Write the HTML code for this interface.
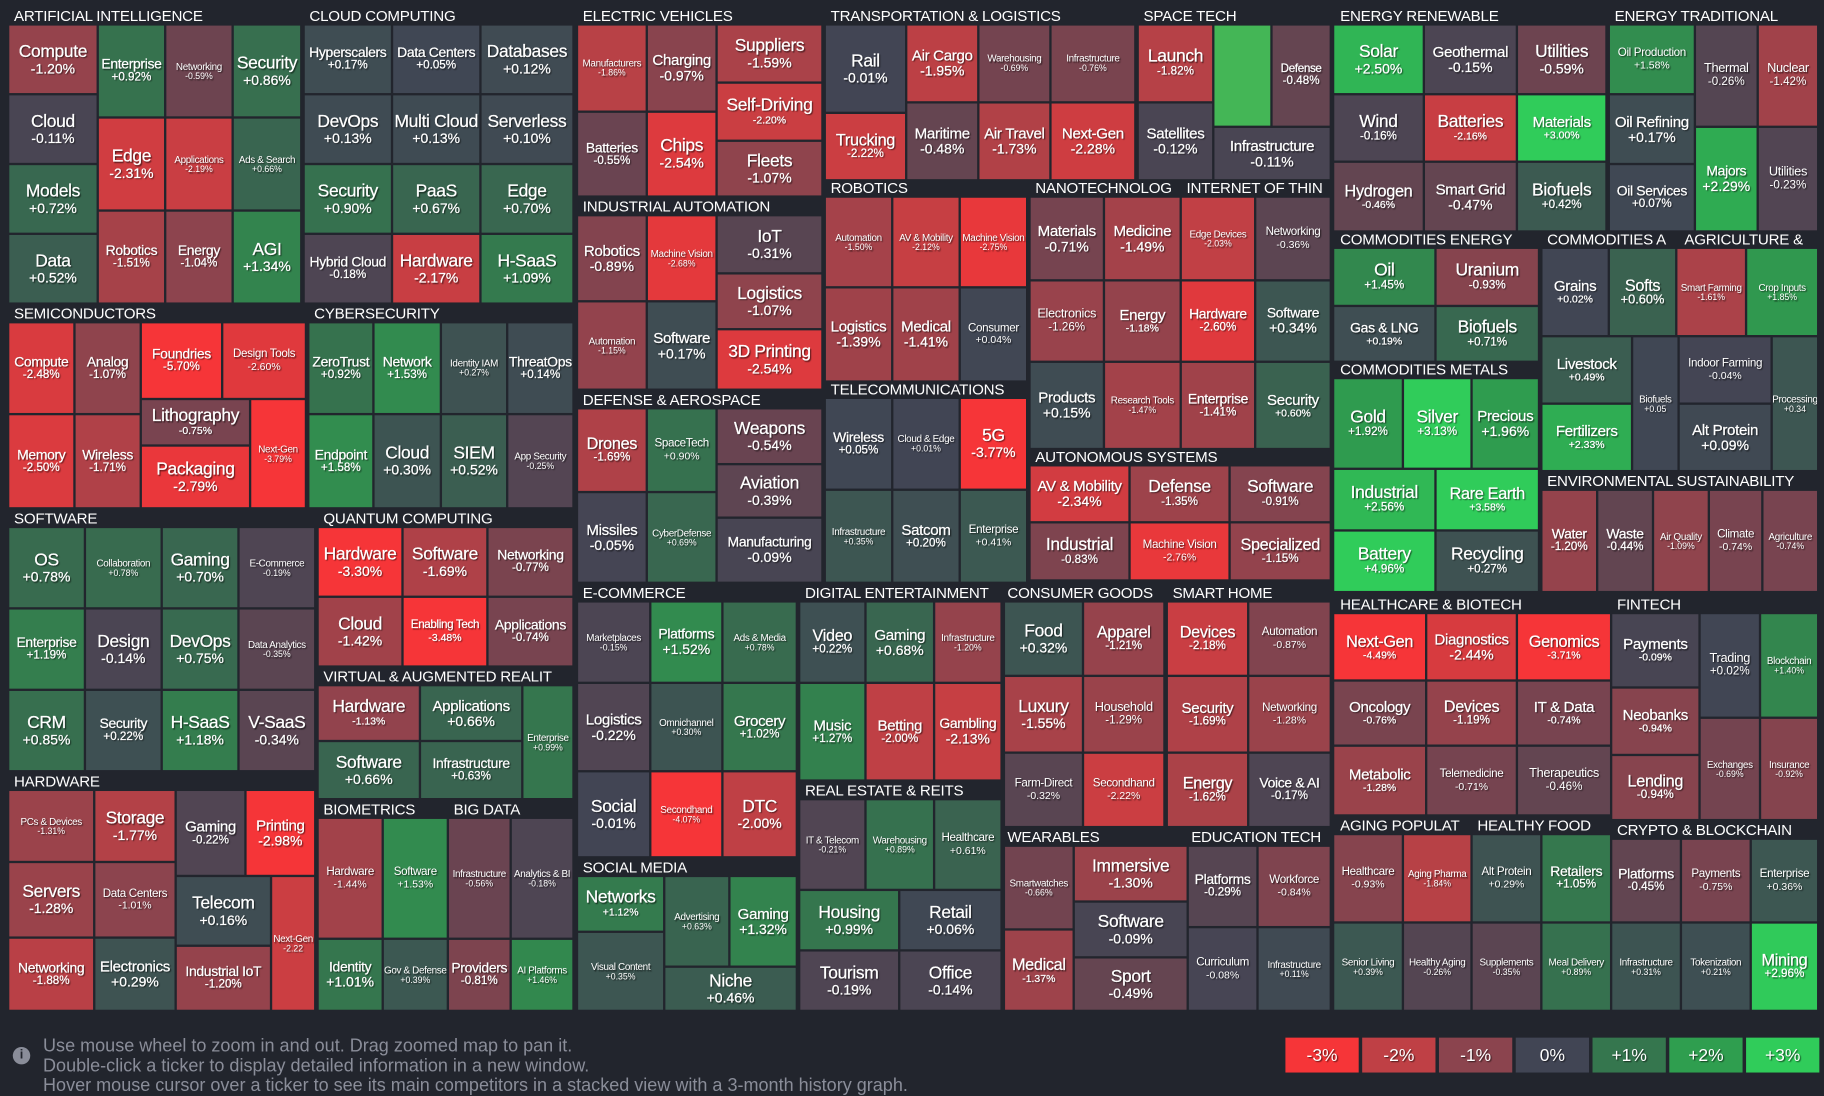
<!DOCTYPE html>
<html><head><meta charset="utf-8">
<style>
html,body{margin:0;padding:0;background:#22252d;overflow:hidden;width:1824px;height:1093px}
#w{position:absolute;left:0;top:0;width:1568px;height:940px;transform:scale(1.16327);transform-origin:0 0;font-family:"Liberation Sans",sans-serif}
.c{position:absolute;left:calc(var(--a)*1px);top:calc(var(--b)*1px);width:calc((var(--c) - var(--a))*1px);height:calc((var(--d) - var(--b))*1px);background:#414554;color:#fff;display:flex;flex-direction:column;align-items:center;justify-content:center;text-align:center;overflow:hidden;text-shadow:1px 1px 1px rgba(0,0,0,.6);line-height:1.05;-webkit-text-stroke:0.2px #fff}
.c b{font-weight:normal;font-size:15px;white-space:nowrap;letter-spacing:-.3px}
.c i{font-style:normal;font-size:12px;white-space:nowrap}
.c.m b{font-size:12px}.c.m i{font-size:10px}
.c.s b{font-size:8.5px}.c.s i{font-size:7.5px}
.c.s{-webkit-text-stroke:0}
.h{position:absolute;left:calc(var(--a)*1px);top:calc(var(--b)*1px);color:#fff;font-size:13px;white-space:nowrap;line-height:16px;letter-spacing:-.2px}
.note{position:absolute;left:37px;color:#8a8d99;font-size:15.5px;line-height:17px;white-space:nowrap}
.lg{position:absolute;top:892px;width:63px;height:30px;color:#fff;font-size:15px;display:flex;align-items:center;justify-content:center;text-shadow:1px 1px 1px rgba(0,0,0,.6)}
</style></head><body><div id="w">
<div class="h" style="--a:12;--b:6">ARTIFICIAL INTELLIGENCE</div>
<div class="c" style="--a:8;--b:22;--c:83;--d:80"><b>Compute</b><i>-1.20%</i></div>
<div class="c" style="--a:8;--b:82;--c:83;--d:140"><b>Cloud</b><i>-0.11%</i></div>
<div class="c" style="--a:8;--b:142;--c:83;--d:200"><b>Models</b><i>+0.72%</i></div>
<div class="c" style="--a:8;--b:202;--c:83;--d:260"><b>Data</b><i>+0.52%</i></div>
<div class="c m" style="--a:85;--b:22;--c:141;--d:100"><b>Enterprise</b><i>+0.92%</i></div>
<div class="c" style="--a:85;--b:102;--c:141;--d:180"><b>Edge</b><i>-2.31%</i></div>
<div class="c m" style="--a:85;--b:182;--c:141;--d:260"><b>Robotics</b><i>-1.51%</i></div>
<div class="c s" style="--a:143;--b:22;--c:199;--d:100"><b>Networking</b><i>-0.59%</i></div>
<div class="c s" style="--a:143;--b:102;--c:199;--d:180"><b>Applications</b><i>-2.19%</i></div>
<div class="c m" style="--a:143;--b:182;--c:199;--d:260"><b>Energy</b><i>-1.04%</i></div>
<div class="c" style="--a:201;--b:22;--c:258;--d:100"><b>Security</b><i>+0.86%</i></div>
<div class="c s" style="--a:201;--b:102;--c:258;--d:180"><b>Ads &amp; Search</b><i>+0.66%</i></div>
<div class="c" style="--a:201;--b:182;--c:258;--d:260"><b>AGI</b><i>+1.34%</i></div>

<div class="h" style="--a:266;--b:6">CLOUD COMPUTING</div>
<div class="c m" style="--a:262;--b:22;--c:336;--d:80"><b>Hyperscalers</b><i>+0.17%</i></div>
<div class="c m" style="--a:338;--b:22;--c:412;--d:80"><b>Data Centers</b><i>+0.05%</i></div>
<div class="c" style="--a:414;--b:22;--c:492;--d:80"><b>Databases</b><i>+0.12%</i></div>
<div class="c" style="--a:262;--b:82;--c:336;--d:140"><b>DevOps</b><i>+0.13%</i></div>
<div class="c" style="--a:338;--b:82;--c:412;--d:140"><b>Multi Cloud</b><i>+0.13%</i></div>
<div class="c" style="--a:414;--b:82;--c:492;--d:140"><b>Serverless</b><i>+0.10%</i></div>
<div class="c" style="--a:262;--b:142;--c:336;--d:200"><b>Security</b><i>+0.90%</i></div>
<div class="c" style="--a:338;--b:142;--c:412;--d:200"><b>PaaS</b><i>+0.67%</i></div>
<div class="c" style="--a:414;--b:142;--c:492;--d:200"><b>Edge</b><i>+0.70%</i></div>
<div class="c m" style="--a:262;--b:202;--c:336;--d:260"><b>Hybrid Cloud</b><i>-0.18%</i></div>
<div class="c" style="--a:338;--b:202;--c:412;--d:260"><b>Hardware</b><i>-2.17%</i></div>
<div class="c" style="--a:414;--b:202;--c:492;--d:260"><b>H-SaaS</b><i>+1.09%</i></div>

<div class="h" style="--a:12;--b:262">SEMICONDUCTORS</div>
<div class="c m" style="--a:8;--b:278;--c:63;--d:355"><b>Compute</b><i>-2.48%</i></div>
<div class="c m" style="--a:65;--b:278;--c:120;--d:355"><b>Analog</b><i>-1.07%</i></div>
<div class="c m" style="--a:122;--b:278;--c:190;--d:342"><b>Foundries</b><i>-5.70%</i></div>
<div class="c s" style="--a:192;--b:278;--c:262;--d:342"><b style="font-size:10px">Design Tools</b><i style="font-size:9px">-2.60%</i></div>
<div class="c m" style="--a:8;--b:357;--c:63;--d:436"><b>Memory</b><i>-2.50%</i></div>
<div class="c m" style="--a:65;--b:357;--c:120;--d:436"><b>Wireless</b><i>-1.71%</i></div>
<div class="c" style="--a:122;--b:344;--c:214;--d:382"><b>Lithography</b><i style="font-size:9px">-0.75%</i></div>
<div class="c" style="--a:122;--b:384;--c:214;--d:436"><b>Packaging</b><i>-2.79%</i></div>
<div class="c s" style="--a:216;--b:344;--c:262;--d:436"><b>Next-Gen</b><i>-3.79%</i></div>

<div class="h" style="--a:270;--b:262">CYBERSECURITY</div>
<div class="c m" style="--a:266;--b:278;--c:320;--d:355"><b>ZeroTrust</b><i>+0.92%</i></div>
<div class="c m" style="--a:322;--b:278;--c:378;--d:355"><b>Network</b><i>+1.53%</i></div>
<div class="c s" style="--a:380;--b:278;--c:435;--d:355"><b>Identity IAM</b><i>+0.27%</i></div>
<div class="c m" style="--a:437;--b:278;--c:492;--d:355"><b>ThreatOps</b><i>+0.14%</i></div>
<div class="c m" style="--a:266;--b:357;--c:320;--d:436"><b>Endpoint</b><i>+1.58%</i></div>
<div class="c" style="--a:322;--b:357;--c:378;--d:436"><b>Cloud</b><i>+0.30%</i></div>
<div class="c" style="--a:380;--b:357;--c:435;--d:436"><b>SIEM</b><i>+0.52%</i></div>
<div class="c s" style="--a:437;--b:357;--c:492;--d:436"><b>App Security</b><i>-0.25%</i></div>

<div class="h" style="--a:12;--b:438">SOFTWARE</div>
<div class="c" style="--a:8;--b:454;--c:72;--d:522"><b>OS</b><i>+0.78%</i></div>
<div class="c s" style="--a:74;--b:454;--c:138;--d:522"><b>Collaboration</b><i>+0.78%</i></div>
<div class="c" style="--a:140;--b:454;--c:204;--d:522"><b>Gaming</b><i>+0.70%</i></div>
<div class="c s" style="--a:206;--b:454;--c:270;--d:522"><b>E-Commerce</b><i>-0.19%</i></div>
<div class="c m" style="--a:8;--b:524;--c:72;--d:592"><b>Enterprise</b><i>+1.19%</i></div>
<div class="c" style="--a:74;--b:524;--c:138;--d:592"><b>Design</b><i>-0.14%</i></div>
<div class="c" style="--a:140;--b:524;--c:204;--d:592"><b>DevOps</b><i>+0.75%</i></div>
<div class="c s" style="--a:206;--b:524;--c:270;--d:592"><b>Data Analytics</b><i>-0.35%</i></div>
<div class="c" style="--a:8;--b:594;--c:72;--d:662"><b>CRM</b><i>+0.85%</i></div>
<div class="c m" style="--a:74;--b:594;--c:138;--d:662"><b>Security</b><i>+0.22%</i></div>
<div class="c" style="--a:140;--b:594;--c:204;--d:662"><b>H-SaaS</b><i>+1.18%</i></div>
<div class="c" style="--a:206;--b:594;--c:270;--d:662"><b>V-SaaS</b><i>-0.34%</i></div>

<div class="h" style="--a:278;--b:438">QUANTUM COMPUTING</div>
<div class="c" style="--a:274;--b:454;--c:345;--d:512"><b>Hardware</b><i>-3.30%</i></div>
<div class="c" style="--a:347;--b:454;--c:418;--d:512"><b>Software</b><i>-1.69%</i></div>
<div class="c m" style="--a:420;--b:454;--c:492;--d:512"><b>Networking</b><i>-0.77%</i></div>
<div class="c" style="--a:274;--b:514;--c:345;--d:572"><b>Cloud</b><i>-1.42%</i></div>
<div class="c m" style="--a:347;--b:514;--c:418;--d:572"><b style="font-size:10px">Enabling Tech</b><i style="font-size:9px">-3.48%</i></div>
<div class="c m" style="--a:420;--b:514;--c:492;--d:572"><b>Applications</b><i>-0.74%</i></div>
<div class="h" style="--a:278;--b:574">VIRTUAL &amp; AUGMENTED REALIT</div>
<div class="c" style="--a:274;--b:590;--c:360;--d:636"><b>Hardware</b><i style="font-size:9px">-1.13%</i></div>
<div class="c m" style="--a:362;--b:590;--c:448;--d:636"><b style="font-size:13px">Applications</b><i style="font-size:12px">+0.66%</i></div>
<div class="c" style="--a:274;--b:638;--c:360;--d:686"><b>Software</b><i>+0.66%</i></div>
<div class="c m" style="--a:362;--b:638;--c:448;--d:686"><b>Infrastructure</b><i>+0.63%</i></div>
<div class="c s" style="--a:450;--b:590;--c:492;--d:686"><b>Enterprise</b><i>+0.99%</i></div>

<div class="h" style="--a:12;--b:664">HARDWARE</div>
<div class="c s" style="--a:8;--b:680;--c:80;--d:740"><b>PCs &amp; Devices</b><i>-1.31%</i></div>
<div class="c" style="--a:82;--b:680;--c:150;--d:740"><b>Storage</b><i>-1.77%</i></div>
<div class="c m" style="--a:152;--b:680;--c:210;--d:752"><b style="font-size:13px">Gaming</b><i>-0.22%</i></div>
<div class="c m" style="--a:212;--b:680;--c:270;--d:752"><b style="font-size:13px">Printing</b><i style="font-size:12px">-2.98%</i></div>
<div class="c" style="--a:8;--b:742;--c:80;--d:805"><b>Servers</b><i>-1.28%</i></div>
<div class="c s" style="--a:82;--b:742;--c:150;--d:805"><b style="font-size:10px">Data Centers</b><i style="font-size:9px">-1.01%</i></div>
<div class="c" style="--a:152;--b:754;--c:232;--d:812"><b>Telecom</b><i>+0.16%</i></div>
<div class="c s" style="--a:234;--b:754;--c:270;--d:868"><b>Next-Gen</b><i>-2.22</i></div>
<div class="c m" style="--a:8;--b:807;--c:80;--d:868"><b>Networking</b><i>-1.88%</i></div>
<div class="c m" style="--a:82;--b:807;--c:150;--d:868"><b style="font-size:13px">Electronics</b><i style="font-size:12px">+0.29%</i></div>
<div class="c m" style="--a:152;--b:814;--c:232;--d:868"><b>Industrial IoT</b><i>-1.20%</i></div>

<div class="h" style="--a:278;--b:688">BIOMETRICS</div>
<div class="c s" style="--a:274;--b:704;--c:328;--d:806"><b style="font-size:10px">Hardware</b><i style="font-size:9px">-1.44%</i></div>
<div class="c s" style="--a:330;--b:704;--c:384;--d:806"><b style="font-size:10px">Software</b><i style="font-size:9px">+1.53%</i></div>
<div class="c m" style="--a:274;--b:808;--c:328;--d:868"><b>Identity</b><i style="font-size:12px">+1.01%</i></div>
<div class="c s" style="--a:330;--b:808;--c:384;--d:868"><b>Gov &amp; Defense</b><i>+0.39%</i></div>
<div class="h" style="--a:390;--b:688">BIG DATA</div>
<div class="c s" style="--a:386;--b:704;--c:438;--d:806"><b>Infrastructure</b><i>-0.56%</i></div>
<div class="c s" style="--a:440;--b:704;--c:492;--d:806"><b>Analytics &amp; BI</b><i>-0.18%</i></div>
<div class="c m" style="--a:386;--b:808;--c:438;--d:868"><b>Providers</b><i>-0.81%</i></div>
<div class="c s" style="--a:440;--b:808;--c:492;--d:868"><b>AI Platforms</b><i>+1.46%</i></div>

<div class="h" style="--a:501;--b:6">ELECTRIC VEHICLES</div>
<div class="c s" style="--a:497;--b:22;--c:555;--d:95"><b>Manufacturers</b><i>-1.86%</i></div>
<div class="c m" style="--a:557;--b:22;--c:615;--d:95"><b style="font-size:13px">Charging</b><i style="font-size:12px">-0.97%</i></div>
<div class="c" style="--a:617;--b:22;--c:706;--d:70"><b>Suppliers</b><i>-1.59%</i></div>
<div class="c" style="--a:617;--b:72;--c:706;--d:120"><b>Self-Driving</b><i style="font-size:9px">-2.20%</i></div>
<div class="c m" style="--a:497;--b:97;--c:555;--d:168"><b>Batteries</b><i>-0.55%</i></div>
<div class="c" style="--a:557;--b:97;--c:615;--d:168"><b>Chips</b><i>-2.54%</i></div>
<div class="c" style="--a:617;--b:122;--c:706;--d:168"><b>Fleets</b><i>-1.07%</i></div>

<div class="h" style="--a:501;--b:170">INDUSTRIAL AUTOMATION</div>
<div class="c m" style="--a:497;--b:186;--c:555;--d:258"><b style="font-size:13px">Robotics</b><i style="font-size:12px">-0.89%</i></div>
<div class="c s" style="--a:557;--b:186;--c:615;--d:258"><b>Machine Vision</b><i>-2.68%</i></div>
<div class="c" style="--a:617;--b:186;--c:706;--d:234"><b>IoT</b><i>-0.31%</i></div>
<div class="c" style="--a:617;--b:236;--c:706;--d:282"><b>Logistics</b><i>-1.07%</i></div>
<div class="c s" style="--a:497;--b:260;--c:555;--d:334"><b>Automation</b><i>-1.15%</i></div>
<div class="c m" style="--a:557;--b:260;--c:615;--d:334"><b style="font-size:13px">Software</b><i style="font-size:12px">+0.17%</i></div>
<div class="c" style="--a:617;--b:284;--c:706;--d:334"><b>3D Printing</b><i>-2.54%</i></div>

<div class="h" style="--a:501;--b:336">DEFENSE &amp; AEROSPACE</div>
<div class="c m" style="--a:497;--b:352;--c:555;--d:422"><b style="font-size:14px">Drones</b><i>-1.69%</i></div>
<div class="c s" style="--a:557;--b:352;--c:615;--d:422"><b style="font-size:10px">SpaceTech</b><i style="font-size:9px">+0.90%</i></div>
<div class="c" style="--a:617;--b:352;--c:706;--d:398"><b>Weapons</b><i>-0.54%</i></div>
<div class="c" style="--a:617;--b:400;--c:706;--d:444"><b>Aviation</b><i>-0.39%</i></div>
<div class="c m" style="--a:497;--b:424;--c:555;--d:500"><b style="font-size:13px">Missiles</b><i style="font-size:12px">-0.05%</i></div>
<div class="c s" style="--a:557;--b:424;--c:615;--d:500"><b>CyberDefense</b><i>+0.69%</i></div>
<div class="c m" style="--a:617;--b:446;--c:706;--d:500"><b>Manufacturing</b><i style="font-size:12px">-0.09%</i></div>

<div class="h" style="--a:501;--b:502">E-COMMERCE</div>
<div class="c s" style="--a:497;--b:518;--c:558;--d:586"><b>Marketplaces</b><i>-0.15%</i></div>
<div class="c m" style="--a:560;--b:518;--c:620;--d:586"><b>Platforms</b><i style="font-size:12px">+1.52%</i></div>
<div class="c s" style="--a:622;--b:518;--c:684;--d:586"><b>Ads &amp; Media</b><i>+0.78%</i></div>
<div class="c m" style="--a:497;--b:588;--c:558;--d:662"><b style="font-size:13px">Logistics</b><i style="font-size:12px">-0.22%</i></div>
<div class="c s" style="--a:560;--b:588;--c:620;--d:662"><b>Omnichannel</b><i>+0.30%</i></div>
<div class="c m" style="--a:622;--b:588;--c:684;--d:662"><b style="font-size:13px">Grocery</b><i>+1.02%</i></div>
<div class="c" style="--a:497;--b:664;--c:558;--d:736"><b>Social</b><i>-0.01%</i></div>
<div class="c s" style="--a:560;--b:664;--c:620;--d:736"><b>Secondhand</b><i>-4.07%</i></div>
<div class="c" style="--a:622;--b:664;--c:684;--d:736"><b>DTC</b><i>-2.00%</i></div>

<div class="h" style="--a:501;--b:738">SOCIAL MEDIA</div>
<div class="c" style="--a:497;--b:754;--c:570;--d:800"><b>Networks</b><i style="font-size:9px">+1.12%</i></div>
<div class="c s" style="--a:572;--b:754;--c:626;--d:830"><b>Advertising</b><i>+0.63%</i></div>
<div class="c m" style="--a:628;--b:754;--c:684;--d:830"><b style="font-size:13px">Gaming</b><i style="font-size:12px">+1.32%</i></div>
<div class="c s" style="--a:497;--b:802;--c:570;--d:868"><b>Visual Content</b><i>+0.35%</i></div>
<div class="c" style="--a:572;--b:832;--c:684;--d:868"><b>Niche</b><i>+0.46%</i></div>

<div class="h" style="--a:714;--b:6">TRANSPORTATION &amp; LOGISTICS</div>
<div class="c" style="--a:710;--b:22;--c:778;--d:96"><b>Rail</b><i>-0.01%</i></div>
<div class="c m" style="--a:780;--b:22;--c:840;--d:87"><b style="font-size:13px">Air Cargo</b><i style="font-size:12px">-1.95%</i></div>
<div class="c s" style="--a:842;--b:22;--c:902;--d:87"><b>Warehousing</b><i>-0.69%</i></div>
<div class="c s" style="--a:904;--b:22;--c:975;--d:87"><b>Infrastructure</b><i>-0.76%</i></div>
<div class="c m" style="--a:710;--b:98;--c:778;--d:154"><b style="font-size:14px">Trucking</b><i>-2.22%</i></div>
<div class="c m" style="--a:780;--b:89;--c:840;--d:154"><b style="font-size:13px">Maritime</b><i style="font-size:12px">-0.48%</i></div>
<div class="c m" style="--a:842;--b:89;--c:902;--d:154"><b style="font-size:13px">Air Travel</b><i style="font-size:12px">-1.73%</i></div>
<div class="c m" style="--a:904;--b:89;--c:975;--d:154"><b style="font-size:13px">Next-Gen</b><i style="font-size:12px">-2.28%</i></div>

<div class="h" style="--a:983;--b:6">SPACE TECH</div>
<div class="c" style="--a:979;--b:22;--c:1042;--d:87"><b>Launch</b><i style="font-size:10px">-1.82%</i></div>
<div class="c" style="--a:1044;--b:22;--c:1092;--d:108;background:#44b656"></div>
<div class="c m" style="--a:1094;--b:22;--c:1143;--d:108"><b style="font-size:10px">Defense</b><i>-0.48%</i></div>
<div class="c m" style="--a:979;--b:89;--c:1042;--d:154"><b style="font-size:13px">Satellites</b><i style="font-size:12px">-0.12%</i></div>
<div class="c m" style="--a:1044;--b:110;--c:1143;--d:154"><b style="font-size:13px">Infrastructure</b><i style="font-size:12px">-0.11%</i></div>

<div class="h" style="--a:714;--b:154">ROBOTICS</div>
<div class="c s" style="--a:710;--b:170;--c:766;--d:246"><b>Automation</b><i>-1.50%</i></div>
<div class="c s" style="--a:768;--b:170;--c:824;--d:246"><b>AV &amp; Mobility</b><i>-2.12%</i></div>
<div class="c s" style="--a:826;--b:170;--c:882;--d:246"><b>Machine Vision</b><i>-2.75%</i></div>
<div class="c m" style="--a:710;--b:248;--c:766;--d:327"><b style="font-size:13px">Logistics</b><i style="font-size:12px">-1.39%</i></div>
<div class="c m" style="--a:768;--b:248;--c:824;--d:327"><b style="font-size:13px">Medical</b><i style="font-size:12px">-1.41%</i></div>
<div class="c s" style="--a:826;--b:248;--c:882;--d:327"><b style="font-size:10px">Consumer</b><i style="font-size:9px">+0.04%</i></div>

<div class="h" style="--a:890;--b:154">NANOTECHNOLOG</div>
<div class="c m" style="--a:886;--b:170;--c:948;--d:240"><b style="font-size:13px">Materials</b><i style="font-size:12px">-0.71%</i></div>
<div class="c m" style="--a:950;--b:170;--c:1014;--d:240"><b style="font-size:13px">Medicine</b><i style="font-size:12px">-1.49%</i></div>
<div class="c s" style="--a:886;--b:242;--c:948;--d:310"><b style="font-size:11px">Electronics</b><i style="font-size:10px">-1.26%</i></div>
<div class="c m" style="--a:950;--b:242;--c:1014;--d:310"><b style="font-size:13px">Energy</b><i style="font-size:9px">-1.18%</i></div>
<div class="c m" style="--a:886;--b:312;--c:948;--d:385"><b style="font-size:13px">Products</b><i style="font-size:12px">+0.15%</i></div>
<div class="c s" style="--a:950;--b:312;--c:1014;--d:385"><b>Research Tools</b><i>-1.47%</i></div>
<div class="h" style="--a:1020;--b:154">INTERNET OF THIN</div>
<div class="c s" style="--a:1016;--b:170;--c:1078;--d:240"><b>Edge Devices</b><i>-2.03%</i></div>
<div class="c s" style="--a:1080;--b:170;--c:1143;--d:240"><b style="font-size:10px">Networking</b><i style="font-size:9px">-0.36%</i></div>
<div class="c m" style="--a:1016;--b:242;--c:1078;--d:310"><b>Hardware</b><i>-2.60%</i></div>
<div class="c m" style="--a:1080;--b:242;--c:1143;--d:310"><b>Software</b><i style="font-size:12px">+0.34%</i></div>
<div class="c m" style="--a:1016;--b:312;--c:1078;--d:385"><b>Enterprise</b><i>-1.41%</i></div>
<div class="c m" style="--a:1080;--b:312;--c:1143;--d:385"><b style="font-size:13px">Security</b><i style="font-size:9px">+0.60%</i></div>

<div class="h" style="--a:714;--b:327">TELECOMMUNICATIONS</div>
<div class="c m" style="--a:710;--b:343;--c:766;--d:420"><b>Wireless</b><i>+0.05%</i></div>
<div class="c s" style="--a:768;--b:343;--c:824;--d:420"><b>Cloud &amp; Edge</b><i>+0.01%</i></div>
<div class="c" style="--a:826;--b:343;--c:882;--d:420"><b>5G</b><i>-3.77%</i></div>
<div class="c s" style="--a:710;--b:422;--c:766;--d:500"><b>Infrastructure</b><i>+0.35%</i></div>
<div class="c m" style="--a:768;--b:422;--c:824;--d:500"><b style="font-size:13px">Satcom</b><i>+0.20%</i></div>
<div class="c s" style="--a:826;--b:422;--c:882;--d:500"><b style="font-size:10px">Enterprise</b><i style="font-size:9px">+0.41%</i></div>

<div class="h" style="--a:890;--b:385">AUTONOMOUS SYSTEMS</div>
<div class="c m" style="--a:886;--b:401;--c:970;--d:448"><b style="font-size:13px">AV &amp; Mobility</b><i style="font-size:12px">-2.34%</i></div>
<div class="c" style="--a:972;--b:401;--c:1056;--d:448"><b>Defense</b><i style="font-size:10px">-1.35%</i></div>
<div class="c" style="--a:1058;--b:401;--c:1143;--d:448"><b>Software</b><i style="font-size:10px">-0.91%</i></div>
<div class="c" style="--a:886;--b:450;--c:970;--d:498"><b>Industrial</b><i style="font-size:10px">-0.83%</i></div>
<div class="c s" style="--a:972;--b:450;--c:1056;--d:498"><b style="font-size:10px">Machine Vision</b><i style="font-size:9px">-2.76%</i></div>
<div class="c m" style="--a:1058;--b:450;--c:1143;--d:498"><b style="font-size:14px">Specialized</b><i>-1.15%</i></div>

<div class="h" style="--a:692;--b:502">DIGITAL ENTERTAINMENT</div>
<div class="c m" style="--a:688;--b:518;--c:743;--d:586"><b style="font-size:14px">Video</b><i>+0.22%</i></div>
<div class="c m" style="--a:745;--b:518;--c:802;--d:586"><b style="font-size:13px">Gaming</b><i style="font-size:12px">+0.68%</i></div>
<div class="c s" style="--a:804;--b:518;--c:860;--d:586"><b>Infrastructure</b><i>-1.20%</i></div>
<div class="c m" style="--a:688;--b:588;--c:743;--d:670"><b style="font-size:13px">Music</b><i>+1.27%</i></div>
<div class="c m" style="--a:745;--b:588;--c:802;--d:670"><b style="font-size:13px">Betting</b><i>-2.00%</i></div>
<div class="c m" style="--a:804;--b:588;--c:860;--d:670"><b>Gambling</b><i style="font-size:12px">-2.13%</i></div>
<div class="h" style="--a:692;--b:672">REAL ESTATE &amp; REITS</div>
<div class="c s" style="--a:688;--b:688;--c:743;--d:764"><b>IT &amp; Telecom</b><i>-0.21%</i></div>
<div class="c s" style="--a:745;--b:688;--c:802;--d:764"><b>Warehousing</b><i>+0.89%</i></div>
<div class="c s" style="--a:804;--b:688;--c:860;--d:764"><b style="font-size:10px">Healthcare</b><i style="font-size:9px">+0.61%</i></div>
<div class="c" style="--a:688;--b:766;--c:772;--d:816"><b>Housing</b><i>+0.99%</i></div>
<div class="c" style="--a:774;--b:766;--c:860;--d:816"><b>Retail</b><i>+0.06%</i></div>
<div class="c" style="--a:688;--b:818;--c:772;--d:868"><b>Tourism</b><i>-0.19%</i></div>
<div class="c" style="--a:774;--b:818;--c:860;--d:868"><b>Office</b><i>-0.14%</i></div>

<div class="h" style="--a:866;--b:502">CONSUMER GOODS</div>
<div class="c" style="--a:864;--b:518;--c:930;--d:580"><b>Food</b><i>+0.32%</i></div>
<div class="c m" style="--a:932;--b:518;--c:1000;--d:580"><b style="font-size:14px">Apparel</b><i>-1.21%</i></div>
<div class="c" style="--a:864;--b:582;--c:930;--d:646"><b>Luxury</b><i>-1.55%</i></div>
<div class="c s" style="--a:932;--b:582;--c:1000;--d:646"><b style="font-size:11px">Household</b><i style="font-size:10px">-1.29%</i></div>
<div class="c s" style="--a:864;--b:648;--c:930;--d:710"><b style="font-size:10px">Farm-Direct</b><i style="font-size:9px">-0.32%</i></div>
<div class="c s" style="--a:932;--b:648;--c:1000;--d:710"><b style="font-size:10px">Secondhand</b><i style="font-size:9px">-2.22%</i></div>
<div class="h" style="--a:1008;--b:502">SMART HOME</div>
<div class="c m" style="--a:1004;--b:518;--c:1072;--d:580"><b style="font-size:14px">Devices</b><i>-2.18%</i></div>
<div class="c s" style="--a:1074;--b:518;--c:1143;--d:580"><b style="font-size:10px">Automation</b><i style="font-size:9px">-0.87%</i></div>
<div class="c m" style="--a:1004;--b:582;--c:1072;--d:646"><b style="font-size:13px">Security</b><i>-1.69%</i></div>
<div class="c s" style="--a:1074;--b:582;--c:1143;--d:646"><b style="font-size:10px">Networking</b><i style="font-size:9px">-1.28%</i></div>
<div class="c m" style="--a:1004;--b:648;--c:1072;--d:710"><b style="font-size:14px">Energy</b><i>-1.62%</i></div>
<div class="c m" style="--a:1074;--b:648;--c:1143;--d:710"><b>Voice &amp; AI</b><i>-0.17%</i></div>

<div class="h" style="--a:866;--b:712">WEARABLES</div>
<div class="c s" style="--a:864;--b:728;--c:922;--d:798"><b>Smartwatches</b><i>-0.66%</i></div>
<div class="c" style="--a:924;--b:728;--c:1020;--d:774"><b>Immersive</b><i>-1.30%</i></div>
<div class="c" style="--a:924;--b:776;--c:1020;--d:822"><b>Software</b><i>-0.09%</i></div>
<div class="c m" style="--a:864;--b:800;--c:922;--d:868"><b style="font-size:14px">Medical</b><i style="font-size:9px">-1.37%</i></div>
<div class="c" style="--a:924;--b:824;--c:1020;--d:868"><b>Sport</b><i>-0.49%</i></div>
<div class="h" style="--a:1024;--b:712">EDUCATION TECH</div>
<div class="c m" style="--a:1022;--b:728;--c:1080;--d:796"><b>Platforms</b><i>-0.29%</i></div>
<div class="c s" style="--a:1082;--b:728;--c:1143;--d:796"><b style="font-size:10px">Workforce</b><i style="font-size:9px">-0.84%</i></div>
<div class="c s" style="--a:1022;--b:798;--c:1080;--d:868"><b style="font-size:10px">Curriculum</b><i style="font-size:9px">-0.08%</i></div>
<div class="c s" style="--a:1082;--b:798;--c:1143;--d:868"><b>Infrastructure</b><i>+0.11%</i></div>

<div class="h" style="--a:1152;--b:6">ENERGY RENEWABLE</div>
<div class="c" style="--a:1147;--b:22;--c:1223;--d:80"><b>Solar</b><i>+2.50%</i></div>
<div class="c m" style="--a:1225;--b:22;--c:1303;--d:80"><b style="font-size:13px">Geothermal</b><i style="font-size:12px">-0.15%</i></div>
<div class="c" style="--a:1305;--b:22;--c:1380;--d:80"><b>Utilities</b><i>-0.59%</i></div>
<div class="c" style="--a:1147;--b:82;--c:1223;--d:138"><b>Wind</b><i style="font-size:10px">-0.16%</i></div>
<div class="c" style="--a:1225;--b:82;--c:1303;--d:138"><b>Batteries</b><i style="font-size:9px">-2.16%</i></div>
<div class="c m" style="--a:1305;--b:82;--c:1380;--d:138"><b style="font-size:13px">Materials</b><i style="font-size:9px">+3.00%</i></div>
<div class="c m" style="--a:1147;--b:140;--c:1223;--d:198"><b style="font-size:14px">Hydrogen</b><i style="font-size:9px">-0.46%</i></div>
<div class="c m" style="--a:1225;--b:140;--c:1303;--d:198"><b style="font-size:13px">Smart Grid</b><i style="font-size:12px">-0.47%</i></div>
<div class="c" style="--a:1305;--b:140;--c:1380;--d:198"><b>Biofuels</b><i style="font-size:10px">+0.42%</i></div>

<div class="h" style="--a:1388;--b:6">ENERGY TRADITIONAL</div>
<div class="c s" style="--a:1384;--b:22;--c:1456;--d:80"><b style="font-size:10px">Oil Production</b><i style="font-size:9px">+1.58%</i></div>
<div class="c s" style="--a:1458;--b:22;--c:1510;--d:108"><b style="font-size:11px">Thermal</b><i style="font-size:10px">-0.26%</i></div>
<div class="c s" style="--a:1512;--b:22;--c:1562;--d:108"><b style="font-size:11px">Nuclear</b><i style="font-size:10px">-1.42%</i></div>
<div class="c m" style="--a:1384;--b:82;--c:1456;--d:140"><b style="font-size:13px">Oil Refining</b><i style="font-size:12px">+0.17%</i></div>
<div class="c m" style="--a:1458;--b:110;--c:1510;--d:198"><b>Majors</b><i style="font-size:12px">+2.29%</i></div>
<div class="c s" style="--a:1512;--b:110;--c:1562;--d:198"><b style="font-size:11px">Utilities</b><i style="font-size:10px">-0.23%</i></div>
<div class="c m" style="--a:1384;--b:142;--c:1456;--d:198"><b>Oil Services</b><i>+0.07%</i></div>

<div class="h" style="--a:1152;--b:198">COMMODITIES ENERGY</div>
<div class="c" style="--a:1147;--b:214;--c:1233;--d:262"><b>Oil</b><i style="font-size:10px">+1.45%</i></div>
<div class="c" style="--a:1235;--b:214;--c:1322;--d:262"><b>Uranium</b><i style="font-size:10px">-0.93%</i></div>
<div class="c m" style="--a:1147;--b:264;--c:1233;--d:310"><b>Gas &amp; LNG</b><i style="font-size:9px">+0.19%</i></div>
<div class="c" style="--a:1235;--b:264;--c:1322;--d:310"><b>Biofuels</b><i style="font-size:10px">+0.71%</i></div>
<div class="h" style="--a:1330;--b:198">COMMODITIES A</div>
<div class="c m" style="--a:1326;--b:214;--c:1382;--d:288"><b style="font-size:13px">Grains</b><i style="font-size:9px">+0.02%</i></div>
<div class="c m" style="--a:1384;--b:214;--c:1440;--d:288"><b style="font-size:14px">Softs</b><i style="font-size:11px">+0.60%</i></div>
<div class="h" style="--a:1448;--b:198">AGRICULTURE &amp;</div>
<div class="c s" style="--a:1442;--b:214;--c:1500;--d:288"><b>Smart Farming</b><i>-1.61%</i></div>
<div class="c s" style="--a:1502;--b:214;--c:1562;--d:288"><b>Crop Inputs</b><i>+1.85%</i></div>
<div class="c m" style="--a:1326;--b:290;--c:1402;--d:346"><b style="font-size:13px">Livestock</b><i style="font-size:9px">+0.49%</i></div>
<div class="c s" style="--a:1404;--b:290;--c:1442;--d:404"><b>Biofuels</b><i>+0.05</i></div>
<div class="c s" style="--a:1444;--b:290;--c:1522;--d:346"><b style="font-size:10px">Indoor Farming</b><i style="font-size:9px">-0.04%</i></div>
<div class="c s" style="--a:1524;--b:290;--c:1562;--d:404"><b>Processing</b><i>+0.34</i></div>
<div class="c m" style="--a:1326;--b:348;--c:1402;--d:404"><b style="font-size:13px">Fertilizers</b><i style="font-size:9px">+2.33%</i></div>
<div class="c m" style="--a:1444;--b:348;--c:1522;--d:404"><b style="font-size:13px">Alt Protein</b><i style="font-size:12px">+0.09%</i></div>

<div class="h" style="--a:1152;--b:310">COMMODITIES METALS</div>
<div class="c" style="--a:1147;--b:326;--c:1205;--d:402"><b>Gold</b><i style="font-size:10px">+1.92%</i></div>
<div class="c" style="--a:1207;--b:326;--c:1264;--d:402"><b>Silver</b><i style="font-size:10px">+3.13%</i></div>
<div class="c m" style="--a:1266;--b:326;--c:1322;--d:402"><b style="font-size:13px">Precious</b><i style="font-size:12px">+1.96%</i></div>
<div class="c" style="--a:1147;--b:404;--c:1233;--d:455"><b>Industrial</b><i style="font-size:10px">+2.56%</i></div>
<div class="c m" style="--a:1235;--b:404;--c:1322;--d:455"><b style="font-size:14px">Rare Earth</b><i style="font-size:9px">+3.58%</i></div>
<div class="c" style="--a:1147;--b:457;--c:1233;--d:508"><b>Battery</b><i style="font-size:10px">+4.96%</i></div>
<div class="c" style="--a:1235;--b:457;--c:1322;--d:508"><b>Recycling</b><i style="font-size:10px">+0.27%</i></div>

<div class="h" style="--a:1330;--b:406">ENVIRONMENTAL SUSTAINABILITY</div>
<div class="c m" style="--a:1326;--b:422;--c:1372;--d:508"><b>Water</b><i>-1.20%</i></div>
<div class="c m" style="--a:1374;--b:422;--c:1420;--d:508"><b>Waste</b><i>-0.44%</i></div>
<div class="c s" style="--a:1422;--b:422;--c:1468;--d:508"><b>Air Quality</b><i>-1.09%</i></div>
<div class="c s" style="--a:1470;--b:422;--c:1514;--d:508"><b style="font-size:10px">Climate</b><i style="font-size:9px">-0.74%</i></div>
<div class="c s" style="--a:1516;--b:422;--c:1562;--d:508"><b>Agriculture</b><i>-0.74%</i></div>

<div class="h" style="--a:1152;--b:512">HEALTHCARE &amp; BIOTECH</div>
<div class="c m" style="--a:1147;--b:528;--c:1225;--d:584"><b style="font-size:14px">Next-Gen</b><i style="font-size:9px">-4.49%</i></div>
<div class="c m" style="--a:1227;--b:528;--c:1303;--d:584"><b style="font-size:13px">Diagnostics</b><i style="font-size:12px">-2.44%</i></div>
<div class="c m" style="--a:1305;--b:528;--c:1384;--d:584"><b style="font-size:14px">Genomics</b><i style="font-size:9px">-3.71%</i></div>
<div class="c m" style="--a:1147;--b:586;--c:1225;--d:640"><b style="font-size:13px">Oncology</b><i style="font-size:9px">-0.76%</i></div>
<div class="c m" style="--a:1227;--b:586;--c:1303;--d:640"><b style="font-size:14px">Devices</b><i style="font-size:10px">-1.19%</i></div>
<div class="c m" style="--a:1305;--b:586;--c:1384;--d:640"><b style="font-size:13px">IT &amp; Data</b><i style="font-size:9px">-0.74%</i></div>
<div class="c m" style="--a:1147;--b:642;--c:1225;--d:700"><b style="font-size:13px">Metabolic</b><i style="font-size:9px">-1.28%</i></div>
<div class="c s" style="--a:1227;--b:642;--c:1303;--d:700"><b style="font-size:10px">Telemedicine</b><i style="font-size:9px">-0.71%</i></div>
<div class="c s" style="--a:1305;--b:642;--c:1384;--d:700"><b style="font-size:11px">Therapeutics</b><i style="font-size:10px">-0.46%</i></div>

<div class="h" style="--a:1390;--b:512">FINTECH</div>
<div class="c m" style="--a:1386;--b:528;--c:1460;--d:590"><b style="font-size:13px">Payments</b><i style="font-size:9px">-0.09%</i></div>
<div class="c s" style="--a:1462;--b:528;--c:1512;--d:616"><b style="font-size:11px">Trading</b><i style="font-size:10px">+0.02%</i></div>
<div class="c s" style="--a:1514;--b:528;--c:1562;--d:616"><b>Blockchain</b><i>+1.40%</i></div>
<div class="c m" style="--a:1386;--b:592;--c:1460;--d:648"><b style="font-size:13px">Neobanks</b><i style="font-size:9px">-0.94%</i></div>
<div class="c m" style="--a:1386;--b:650;--c:1460;--d:704"><b style="font-size:14px">Lending</b><i style="font-size:10px">-0.94%</i></div>
<div class="c s" style="--a:1462;--b:618;--c:1512;--d:704"><b>Exchanges</b><i>-0.69%</i></div>
<div class="c s" style="--a:1514;--b:618;--c:1562;--d:704"><b>Insurance</b><i>-0.92%</i></div>

<div class="h" style="--a:1152;--b:702">AGING POPULAT</div>
<div class="c s" style="--a:1147;--b:718;--c:1205;--d:792"><b style="font-size:10px">Healthcare</b><i style="font-size:9px">-0.93%</i></div>
<div class="c s" style="--a:1207;--b:718;--c:1264;--d:792"><b>Aging Pharma</b><i>-1.84%</i></div>
<div class="c s" style="--a:1147;--b:794;--c:1205;--d:868"><b>Senior Living</b><i>+0.39%</i></div>
<div class="c s" style="--a:1207;--b:794;--c:1264;--d:868"><b>Healthy Aging</b><i>-0.26%</i></div>
<div class="h" style="--a:1270;--b:702">HEALTHY FOOD</div>
<div class="c s" style="--a:1266;--b:718;--c:1324;--d:792"><b style="font-size:10px">Alt Protein</b><i style="font-size:9px">+0.29%</i></div>
<div class="c m" style="--a:1326;--b:718;--c:1384;--d:792"><b>Retailers</b><i>+1.05%</i></div>
<div class="c s" style="--a:1266;--b:794;--c:1324;--d:868"><b>Supplements</b><i>-0.35%</i></div>
<div class="c s" style="--a:1326;--b:794;--c:1384;--d:868"><b>Meal Delivery</b><i>+0.89%</i></div>

<div class="h" style="--a:1390;--b:706">CRYPTO &amp; BLOCKCHAIN</div>
<div class="c m" style="--a:1386;--b:722;--c:1444;--d:792"><b>Platforms</b><i>-0.45%</i></div>
<div class="c s" style="--a:1446;--b:722;--c:1504;--d:792"><b style="font-size:10px">Payments</b><i style="font-size:9px">-0.75%</i></div>
<div class="c s" style="--a:1506;--b:722;--c:1562;--d:792"><b style="font-size:10px">Enterprise</b><i style="font-size:9px">+0.36%</i></div>
<div class="c s" style="--a:1386;--b:794;--c:1444;--d:868"><b>Infrastructure</b><i>+0.31%</i></div>
<div class="c s" style="--a:1446;--b:794;--c:1504;--d:868"><b>Tokenization</b><i>+0.21%</i></div>
<div class="c m" style="--a:1506;--b:794;--c:1562;--d:868"><b style="font-size:14px">Mining</b><i>+2.96%</i></div>

<div style="position:absolute;left:11px;top:900px;width:15px;height:15px;border-radius:50%;background:#8a8d99;color:#22252d;font-size:11px;font-weight:bold;text-align:center;line-height:15px">i</div>
<div class="note" style="top:891px">Use mouse wheel to zoom in and out. Drag zoomed map to pan it.</div>
<div class="note" style="top:908px">Double-click a ticker to display detailed information in a new window.</div>
<div class="note" style="top:925px">Hover mouse cursor over a ticker to see its main competitors in a stacked view with a 3-month history graph.</div>
<div class="lg" style="left:1105px;background:#f63538">-3%</div>
<div class="lg" style="left:1171px;background:#bf4045">-2%</div>
<div class="lg" style="left:1237px;background:#8b444e">-1%</div>
<div class="lg" style="left:1303px;background:#414554">0%</div>
<div class="lg" style="left:1369px;background:#35764e">+1%</div>
<div class="lg" style="left:1435px;background:#2f9e4f">+2%</div>
<div class="lg" style="left:1501px;background:#30cc5a">+3%</div>
</div>
<script>
var st=[[-3,[246,53,56]],[-2,[191,64,69]],[-1,[139,68,78]],[0,[65,69,84]],[1,[53,118,78]],[2,[47,158,79]],[3,[48,204,90]]];
function col(v){v=Math.max(-3,Math.min(3,v));for(var k=0;k<6;k++){var a=st[k],b=st[k+1];if(v<=b[0]){var t=(v-a[0]);return 'rgb('+[0,1,2].map(function(j){return Math.round(a[1][j]+(b[1][j]-a[1][j])*t)}).join(',')+')';}}return 'rgb(48,204,90)';}
document.querySelectorAll('.c').forEach(function(e){var i=e.querySelector('i');if(i){var v=parseFloat(i.textContent);if(!isNaN(v))e.style.background=col(v);}});
</script>
</body></html>
